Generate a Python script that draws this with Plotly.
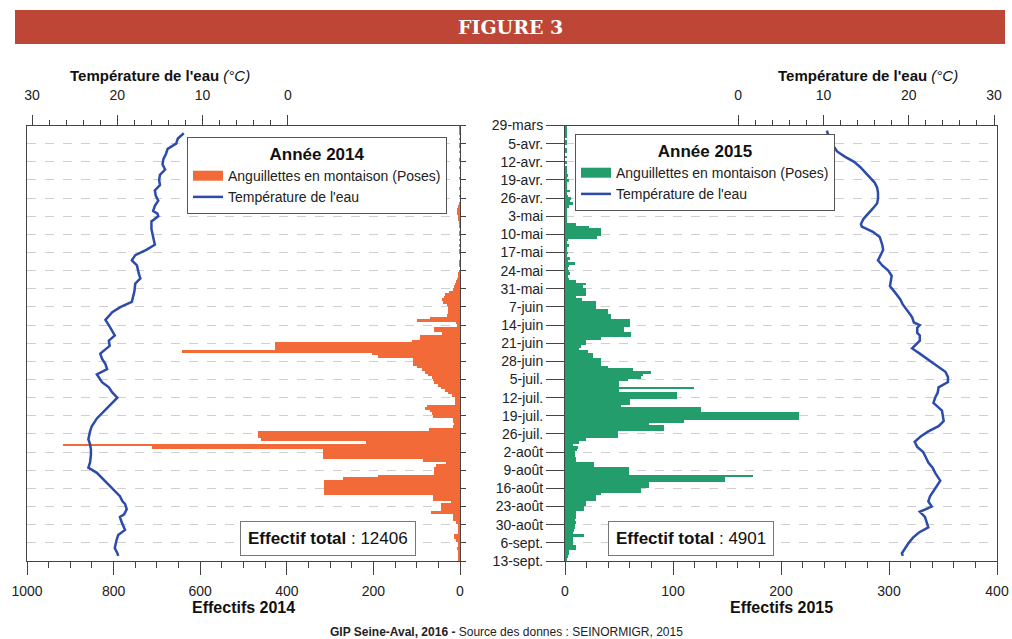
import plotly.graph_objects as go

# ---------------- data ----------------
week_labels = ["29-mars", "5-avr.", "12-avr.", "19-avr.", "26-avr.", "3-mai", "10-mai",
               "17-mai", "24-mai", "31-mai", "7-juin", "14-juin", "21-juin", "28-juin",
               "5-juil.", "12-juil.", "19-juil.", "26-juil.", "2-août", "9-août",
               "16-août", "23-août", "30-août", "6-sept.", "13-sept."]
week_days = [7 * i for i in range(len(week_labels))]

# day index (0 = 29 mars) for daily counts
days = list(range(169))

eel_2014 = [2, 1, 2, 1, 0, 1, 0, 1, 1, 0,
            1, 0, 0, 1, 0, 0, 1, 0, 0, 0,
            1, 0, 0, 0, 1, 0, 0, 1, 0, 0,
            2, 5, 8, 6, 7, 4, 3, 1, 2, 1,
            0, 1, 2, 0, 1, 0, 1, 0, 2, 1,
            0, 0, 1, 2, 1, 0, 2, 3,
            3, 6, 9, 12, 15, 17,
            25, 35, 38, 42, 40, 30,
            28, 28, 28, 30,
            69, 100, 10, 8, 61, 61, 42, 92, 92, 111,
            428, 428, 428, 642,
            203, 190, 108, 108, 108, 100, 88, 81, 75, 65, 62, 60,
            50, 45, 35, 28, 19, 12, 12, 12, 77, 81, 70, 65,
            63, 17, 16, 15, 17, 71, 466, 466, 466, 460,
            216, 917, 712, 316, 316, 316, 316,
            86, 32, 55, 59, 59, 60,
            190, 270, 313, 313, 313, 313, 313, 313,
            63, 63, 21, 44, 44, 44, 67,
            17, 17, 17, 10, 5, 5, 5, 5,
            13, 13, 10, 5, 4, 6, 5, 4, 5, 3, 3]

eel_2015 = [1, 1, 1, 1, 1, 0, 1, 1, 0, 1,
            1, 0, 1, 0, 1, 0, 1, 2, 1, 3,
            1, 4, 2, 2, 1, 5, 2, 3, 6, 5,
            7, 4, 1, 2, 1, 2, 1, 2,
            10, 22, 33, 33, 33, 30, 3,
            2, 4, 2, 1, 3, 2, 5, 3, 9,
            4, 3, 4, 5, 3, 4, 10,
            19, 17, 19, 19, 19, 10, 16,
            29, 29, 29, 40, 40, 43, 43, 60, 60, 60,
            55, 55, 61, 61, 33, 19, 19, 15, 13, 21,
            26, 26, 33, 33, 33, 40, 63, 80, 72,
            70, 58, 50, 50, 119, 50, 104, 104, 104,
            60, 60, 52, 126, 126, 217, 217, 217, 110,
            78, 92, 92, 49, 49, 49, 19, 13, 7,
            12, 11, 9, 9, 10, 10, 27, 27,
            59, 59, 59, 174, 148, 148, 78, 78,
            70, 70, 33, 29, 29, 19, 19, 18, 18,
            10, 10, 10, 9, 10, 9, 9, 8, 7,
            18, 7, 7, 7, 10, 10, 4, 4, 3, 1, 1]

temp_days_2014 = [3, 5, 7, 9, 11, 13, 15, 17, 19, 21, 23, 25, 27, 29, 31, 33, 34, 35, 37, 40,
                  43, 46, 48, 50, 52, 54, 57, 59, 61, 64, 68, 70, 72, 75, 77, 79, 81, 83, 85, 88,
                  90, 92, 94, 96, 98, 99, 101, 103, 105, 107, 109, 111, 113, 116, 118, 121, 123,
                  125, 127, 130, 132, 134, 136, 139, 141, 143, 145, 146, 148, 150, 151, 153, 156,
                  158, 160, 163, 165, 166]
temp_2014 = [12.2, 12.9, 13.1, 14.1, 14.3, 14.6, 14.7, 14.4, 15.0, 15.1, 15.0, 15.6, 15.5, 15.2,
             15.6, 15.8, 15.3, 15.2, 16.0, 16.0, 15.8, 15.6, 16.6, 17.9, 18.3, 17.7, 17.5, 17.3,
             17.9, 18.0, 18.3, 19.6, 20.6, 21.4, 21.0, 20.6, 20.3, 21.0, 20.9, 22.0, 21.8, 21.4,
             21.2, 22.4, 22.0, 21.8, 21.0, 20.6, 20.0, 20.6, 21.1, 21.8, 22.4, 23.0, 23.2, 23.4,
             23.2, 23.1, 23.1, 23.2, 23.4, 22.4, 21.8, 20.9, 20.3, 19.7, 19.4, 19.1, 18.9, 19.2,
             19.7, 19.5, 19.1, 19.9, 20.1, 20.3, 20.0, 19.9]

temp_days_2015 = [2, 3, 6, 8, 10, 12, 14, 16, 18, 20, 22, 24, 26, 28, 30, 32, 34, 36, 38, 39,
                  41, 43, 46, 48, 50, 52, 54, 56, 58, 60, 62, 64, 67, 69, 71, 73, 74, 76, 77, 78,
                  80, 81, 83, 84, 86, 88, 90, 92, 95, 97, 99, 100, 101, 103, 105, 107, 108, 110,
                  112, 114, 116, 118, 120, 122, 124, 126, 128, 130, 132, 134, 137, 139, 141, 143,
                  145, 147, 149, 151, 153, 155, 157, 159, 161, 163, 165, 166]
temp_2015 = [10.4, 10.5, 10.8, 11.2, 11.6, 12.5, 13.6, 14.3, 14.9, 15.5, 16.0, 16.3, 16.4, 16.4,
             16.3, 15.8, 15.2, 14.7, 14.4, 14.5, 15.8, 16.6, 16.9, 17.0, 16.7, 16.4, 16.9, 17.6,
             18.0, 17.9, 17.8, 18.3, 19.0, 19.3, 19.8, 20.2, 20.4, 20.6, 21.3, 21.0, 21.0, 21.3,
             21.3, 21.0, 20.4, 21.3, 22.1, 23.0, 24.3, 24.6, 24.6, 24.1, 23.5, 23.4, 23.1, 22.9,
             23.2, 23.9, 24.0, 24.1, 23.5, 22.3, 21.4, 20.7, 21.0, 21.7, 22.0, 22.3, 22.8, 23.1,
             23.7, 23.3, 22.9, 22.5, 22.3, 22.7, 21.3, 21.9, 22.1, 22.3, 21.2, 20.5, 20.0, 19.6,
             19.2, 19.3]

total_2014 = 12406
total_2015 = 4901

# ---------------- styling ----------------
W, H = 1012, 639
FONT = "Liberation Sans, Arial, sans-serif"
ORANGE = "#F26A38"
GREEN = "#229D6B"
BLUE = "#2D4BAA"
FRAME = "#444444"
GRID = "#cfcfcf"
BAR_NAME = "Anguillettes en montaison (Poses)"
TEMP_NAME = "Température de l'eau"


def px(x):
    return x / W


def py(y):
    return 1 - y / H


Y_DOM = [py(561), py(125.5)]
LEFT_DOM = [px(27), px(460)]
RIGHT_DOM = [px(565), px(997)]
temp_minor = [v for v in range(2, 30, 2) if v % 10 != 0]

fig = go.Figure()

# 2014 panel
fig.add_trace(go.Bar(x=eel_2014, y=days, orientation="h", width=1, xaxis="x", yaxis="y",
                     marker=dict(color=ORANGE, line=dict(width=0)),
                     name=BAR_NAME, showlegend=False))
fig.add_trace(go.Scatter(x=[None], y=[None], mode="lines", xaxis="x2", yaxis="y",
                         line=dict(color=ORANGE, width=14), name=BAR_NAME, legend="legend"))
fig.add_trace(go.Scatter(x=temp_2014, y=temp_days_2014, mode="lines", xaxis="x2", yaxis="y",
                         line=dict(color=BLUE, width=2.5), name=TEMP_NAME, legend="legend"))
# 2015 panel
fig.add_trace(go.Bar(x=eel_2015, y=days, orientation="h", width=1, xaxis="x3", yaxis="y2",
                     marker=dict(color=GREEN, line=dict(width=0)),
                     name=BAR_NAME, showlegend=False))
fig.add_trace(go.Scatter(x=[None], y=[None], mode="lines", xaxis="x4", yaxis="y2",
                         line=dict(color=GREEN, width=14), name=BAR_NAME, legend="legend2"))
fig.add_trace(go.Scatter(x=temp_2015, y=temp_days_2015, mode="lines", xaxis="x4", yaxis="y2",
                         line=dict(color=BLUE, width=2.5), name=TEMP_NAME, legend="legend2"))

count_axis = dict(ticks="outside", ticklen=13, tickcolor=FRAME, tickwidth=1,
                  showline=True, linecolor=FRAME, linewidth=1, mirror=True,
                  showgrid=False, zeroline=False, automargin=False, ticklabelstandoff=4,
                  tickfont=dict(size=14, color="#222"))
day_axis = dict(range=[168, 0], domain=Y_DOM, tickvals=week_days,
                showgrid=True, gridcolor=GRID, griddash="dash", gridwidth=1,
                showline=True, linecolor=FRAME, linewidth=1, mirror=True,
                zeroline=False, tickcolor=FRAME, ticks="outside", automargin=False)
temp_axis = dict(side="top", tickvals=[0, 10, 20, 30], ticks="outside", ticklen=10,
                 tickcolor=FRAME, showgrid=False, zeroline=False, showline=False,
                 automargin=False, ticklabelstandoff=9,
                 minor=dict(tickvals=temp_minor, ticks="outside", ticklen=5, tickcolor=FRAME),
                 tickfont=dict(size=14, color="#222"))

legend_common = dict(xanchor="left", yanchor="top", bgcolor="white", bordercolor="#555",
                     borderwidth=1, font=dict(size=14, color="#222"), itemwidth=30,
                     tracegroupgap=0)

fig.update_layout(
    xaxis=dict(domain=LEFT_DOM, range=[1000, 0], anchor="y",
               tickvals=[0, 200, 400, 600, 800, 1000],
               minor=dict(dtick=50, tick0=0, ticks="outside", ticklen=6, tickcolor=FRAME),
               **count_axis),
    yaxis=dict(anchor="x", side="right", showticklabels=False, ticklen=5, **day_axis),
    xaxis2=dict(overlaying="x", anchor="y", range=[30.6, -20.2], **temp_axis),
    xaxis3=dict(domain=RIGHT_DOM, range=[0, 400], anchor="y2",
                tickvals=[0, 100, 200, 300, 400],
                minor=dict(dtick=20, tick0=0, ticks="outside", ticklen=6, tickcolor=FRAME),
                **count_axis),
    yaxis2=dict(anchor="x3", side="left", ticktext=week_labels, ticklen=18,
                tickfont=dict(size=14, color="#222"), **day_axis),
    xaxis4=dict(overlaying="x3", anchor="y2", range=[-20.3, 30.35], **temp_axis),
    bargap=0,
    width=W, height=H, autosize=False,
    margin=dict(l=0, r=0, t=0, b=0, pad=0),
    paper_bgcolor="white", plot_bgcolor="white",
    font=dict(family=FONT, color="#222"),
    legend=dict(x=px(187), y=py(137),
                title=dict(text="<b>Année 2014</b>", side="top center",
                           font=dict(size=17, color="#111")),
                **legend_common),
    legend2=dict(x=px(575), y=py(134),
                 title=dict(text="<b>Année 2015</b>", side="top center",
                            font=dict(size=17, color="#111")),
                 **legend_common),
    showlegend=True,
)

# header banner
fig.add_shape(type="rect", xref="paper", yref="paper", x0=px(15), x1=px(1005),
              y0=py(44), y1=py(10), fillcolor="#BD4636", line=dict(width=0), layer="below")

ann = [
    dict(text="<b>FIGURE 3</b>", x=px(511), y=py(27),
         font=dict(size=19, color="white", family="DejaVu Serif, serif")),
    dict(text="<b>Température de l'eau</b> <i>(°C)</i>", x=px(160), y=py(75),
         font=dict(size=15, color="#111")),
    dict(text="<b>Température de l'eau</b> <i>(°C)</i>", x=px(868), y=py(75),
         font=dict(size=15, color="#111")),
    dict(text="<b>Effectifs 2014</b>", x=px(243), y=py(607),
         font=dict(size=16, color="#111")),
    dict(text="<b>Effectifs 2015</b>", x=px(781), y=py(607),
         font=dict(size=16, color="#111")),
    dict(text=f"<b>Effectif total</b> : {total_2014}", x=px(328), y=py(538),
         font=dict(size=17, color="#111"), bgcolor="white", bordercolor="#777",
         borderwidth=1, borderpad=7),
    dict(text=f"<b>Effectif total</b> : {total_2015}", x=px(691), y=py(538),
         font=dict(size=17, color="#111"), bgcolor="white", bordercolor="#777",
         borderwidth=1, borderpad=7),
    dict(text="<b>GIP Seine-Aval, 2016 -</b> Source des donnes : SEINORMIGR, 2015",
         x=px(506), y=py(632), font=dict(size=12, color="#222")),
]
for a in ann:
    a.update(xref="paper", yref="paper", showarrow=False, xanchor="center", yanchor="middle")
    fig.add_annotation(**a)

fig.write_html("out.html", config={"displayModeBar": False},
               post_script="document.body.style.margin='0';document.body.style.overflow='hidden';")
